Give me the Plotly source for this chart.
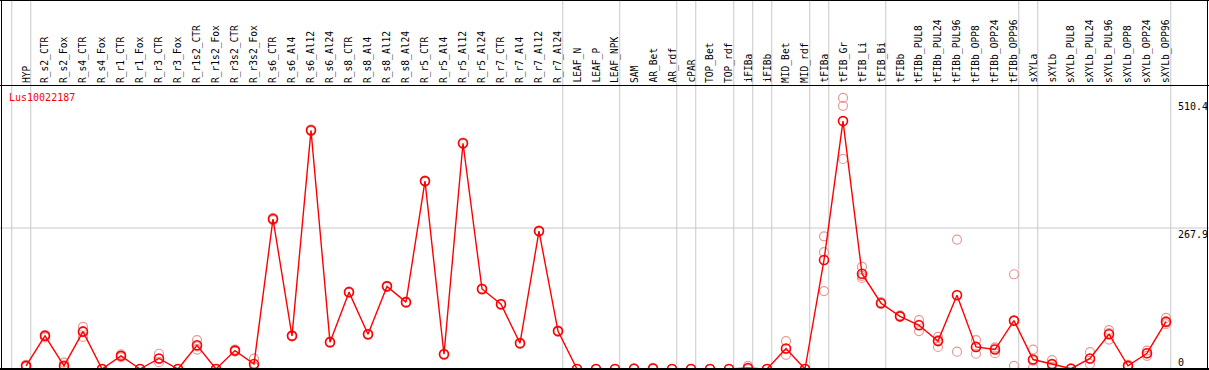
import plotly.graph_objects as go

categories = ["HYP", "R_s2_CTR", "R_s2_Fox", "R_s4_CTR", "R_s4_Fox", "R_r1_CTR", "R_r1_Fox",
              "R_r3_CTR", "R_r3_Fox", "R_r1s2_CTR", "R_r1s2_Fox", "R_r3s2_CTR", "R_r3s2_Fox",
              "R_s6_CTR", "R_s6_Al4", "R_s6_Al12", "R_s6_Al24", "R_s8_CTR", "R_s8_Al4", "R_s8_Al12",
              "R_s8_Al24", "R_r5_CTR", "R_r5_Al4", "R_r5_Al12", "R_r5_Al24", "R_r7_CTR", "R_r7_Al4",
              "R_r7_Al12", "R_r7_Al24", "LEAF_N", "LEAF_P", "LEAF_NPK", "SAM", "AR_Bet", "AR_rdf",
              "cPAR", "TOP_Bet", "TOP_rdf", "iFIBa", "iFIBb", "MID_Bet", "MID_rdf", "tFIBa",
              "tFIB_Gr", "tFIB_Li", "tFIB_Bi", "tFIBb", "tFIBb_PUL8", "tFIBb_PUL24", "tFIBb_PUL96",
              "tFIBb_OPP8", "tFIBb_OPP24", "tFIBb_OPP96", "sXYLa", "sXYLb", "sXYLb_PUL8",
              "sXYLb_PUL24", "sXYLb_PUL96", "sXYLb_OPP8", "sXYLb_OPP24", "sXYLb_OPP96"]

mean_values = [6, 63, 6, 71, 0, 25, 0, 20, 0, 45, 0, 35, 9.5,
               285, 63, 453.5, 51, 146, 66, 157, 127, 357, 28, 429, 152, 123, 49, 262, 72,
               0, 0, 0, 0.5, 1, 0, 0, 0, 0, 2, 0, 39, 0, 207,
               471, 181, 125, 100, 83, 53, 140, 42, 37, 92,
               18, 9.5, 0.5, 20, 66, 6, 30, 90]

rep1 = [8, 65, 12, 80, 0, 28, 0, 29, 0, 55, 0, 37, 19.6,
        287, 64, 455, 52, 147, 67, 158, 128, 358, 29, 430, 153, 124, 50, 263, 73,
        0, 0, 0, 1, 2, 0, 0, 0, 0, 6, 0, 53, 0, 252,
        515, 194, 127, 102, 93, 61, 246, 55, 39, 180,
        37, 17, 1, 32, 74, 8, 35, 97]
rep2 = [4, 60, 3, 61, 0, 22, 0, 13, 0, 37, 0, 33, 4,
        283, 62, 452, 50, 145, 65, 156, 126, 356, 27, 428, 151, 122, 48, 261, 71,
        0, 0, 0, 0, 0, 0, 0, 0, 0, 0, 0, 27, 0, 222,
        500, 177, 124, 99, 72, 42, 33, 29, 30, 6,
        2, 4, 0, 9.5, 56, 4, 25, 88]
rep3 = [6, 64, 3, 72, 0, 25, 0, 19, 0, 43, 0, 35, 5,
        285, 63, 453, 51, 146, 66, 157, 127, 357, 28, 429, 152, 123, 49, 262, 72,
        0, 0, 0, 0.5, 1, 0, 0, 0, 0, 0, 0, 38, 0, 148,
        399, 173, 125, 100, 84, 55, 141, 42, 41, 91,
        16, 8, 0.5, 19, 68, 6, 30, 85]

group_ends = [-1, 0, 28, 31, 34, 35, 37, 38, 39, 41, 42, 45, 52, 53, 60]
y_tick_values = [510.4, 267.9, 0]
y_tick_labels = ["510.4", "267.9", "0"]
gene_name = "Lus10022187"

W, H = 1209, 370
X0, DX = 26, 19          # pixel position of first column, column spacing
Y0, SY = 369, 0.5263     # pixel y of value 0, pixels per unit

xs = list(range(len(categories)))

fig = go.Figure()

# replicate points
for rep in (rep1, rep2, rep3):
    fig.add_trace(go.Scatter(
        x=xs, y=rep, mode="markers",
        marker=dict(symbol="circle-open", size=9, color="#e89898", line=dict(width=1.2)),
        hoverinfo="skip", showlegend=False))

# mean line
fig.add_trace(go.Scatter(
    x=xs, y=mean_values, mode="lines+markers",
    line=dict(color="#ff0000", width=1.4),
    marker=dict(symbol="circle-open", size=9, color="#ff0000", line=dict(width=1.6)),
    showlegend=False))

shapes = []
grid = "#c8c8c8"
for g in group_ends:
    shapes.append(dict(type="line", xref="x", yref="paper", x0=g + 0.25, x1=g + 0.25,
                       y0=0, y1=1, line=dict(color=grid, width=1), layer="below"))
# horizontal grid at middle tick
shapes.append(dict(type="line", xref="paper", yref="y", x0=0, x1=1,
                   y0=y_tick_values[1], y1=y_tick_values[1],
                   line=dict(color=grid, width=1), layer="below"))

def px_x(p):
    return p / W
def px_y(p):
    return 1 - p / H

shapes += [
    dict(type="line", xref="paper", yref="paper", x0=px_x(1.5), x1=px_x(1.5), y0=0, y1=1,
         line=dict(color="black", width=1)),
    dict(type="line", xref="paper", yref="paper", x0=px_x(1207.5), x1=px_x(1207.5), y0=0, y1=1,
         line=dict(color="black", width=1)),
    dict(type="line", xref="paper", yref="paper", x0=0, x1=1, y0=px_y(0.5), y1=px_y(0.5),
         line=dict(color="black", width=1)),
    dict(type="line", xref="paper", yref="paper", x0=0, x1=1, y0=px_y(85.5), y1=px_y(85.5),
         line=dict(color="black", width=1)),
    dict(type="line", xref="paper", yref="paper", x0=0, x1=1, y0=px_y(369), y1=px_y(369),
         line=dict(color="black", width=2)),
]

annotations = []
mono = "DejaVu Sans Mono"
for i, c in enumerate(categories):
    annotations.append(dict(x=i, y=px_y(84), xref="x", yref="paper", text=c, showarrow=False,
                            textangle=-90, xanchor="center", yanchor="bottom",
                            font=dict(family=mono, size=9.6, color="black"), borderpad=0))
annotations.append(dict(x=px_x(8), y=px_y(97), xref="paper", yref="paper", text=gene_name,
                        showarrow=False, xanchor="left", yanchor="middle",
                        font=dict(family=mono, size=10, color="#ff0000"), borderpad=0))
for v, t in zip(y_tick_values, y_tick_labels):
    annotations.append(dict(x=px_x(1177), y=v, xref="paper", yref="y", text=t, showarrow=False,
                            xanchor="left", yanchor="top" if v > 0 else "bottom",
                            font=dict(family=mono, size=10, color="black"), borderpad=0))

fig.update_layout(
    width=W, height=H, margin=dict(l=0, r=0, t=0, b=0),
    paper_bgcolor="white", plot_bgcolor="white",
    xaxis=dict(range=[-X0 / DX, (W - X0) / DX], visible=False, fixedrange=True),
    yaxis=dict(range=[(Y0 - H) / SY, Y0 / SY], visible=False, fixedrange=True),
    shapes=shapes, annotations=annotations, showlegend=False,
)

fig.write_html("out.html", config={"displayModeBar": False},
               post_script="document.body.style.margin='0';document.body.style.overflow='hidden';")
